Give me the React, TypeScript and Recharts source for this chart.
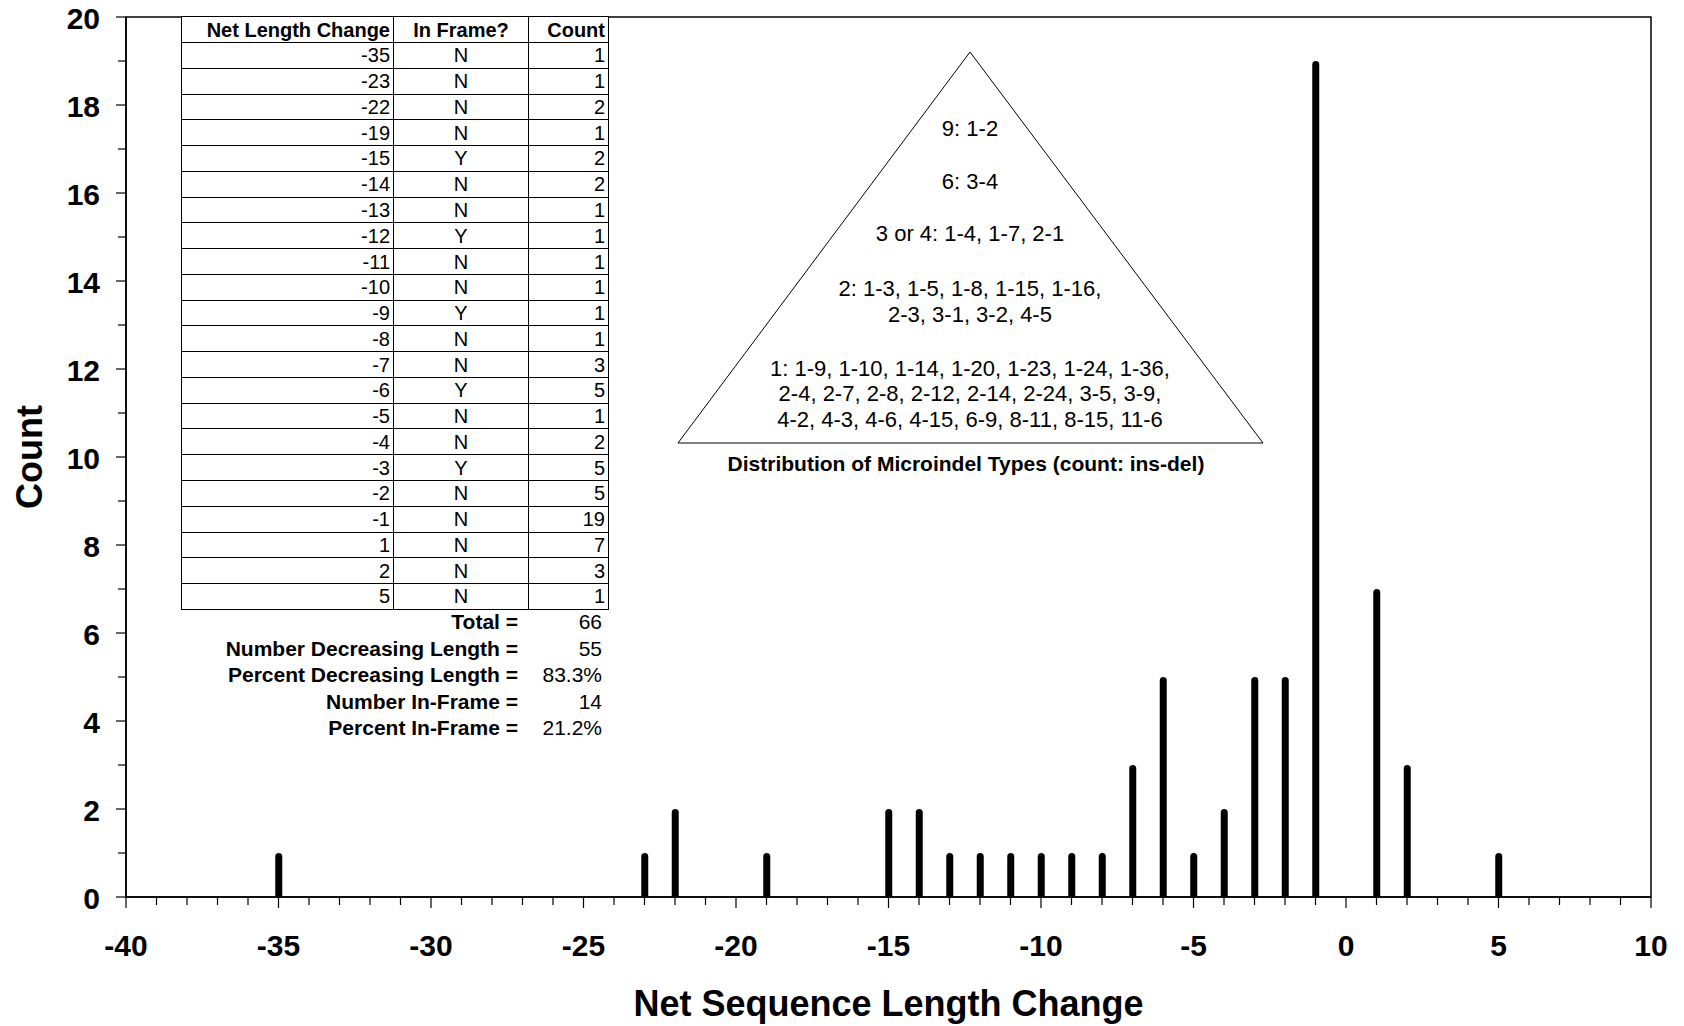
import { ComposedChart, Bar, XAxis, YAxis, ReferenceArea, Label } from 'recharts';

const changes = [-35, -23, -22, -19, -15, -14, -13, -12, -11, -10, -9, -8, -7, -6, -5, -4, -3, -2, -1, 1, 2, 5];
const inFrame = ['N', 'N', 'N', 'N', 'Y', 'N', 'N', 'Y', 'N', 'N', 'Y', 'N', 'N', 'Y', 'N', 'N', 'Y', 'N', 'N', 'N', 'N', 'N'];
const counts = [1, 1, 2, 1, 2, 2, 1, 1, 1, 1, 1, 1, 3, 5, 1, 2, 5, 5, 19, 7, 3, 1];

const xTicks = Array.from({ length: 51 }, (_, i) => i - 40);
const yTicks = Array.from({ length: 21 }, (_, i) => i);

const statLabels = ['Total =', 'Number Decreasing Length =', 'Percent Decreasing Length =', 'Number In-Frame =', 'Percent In-Frame ='];
const statValues = ['66', '55', '83.3%', '14', '21.2%'];

const triangleLines = [
  '9: 1-2',
  '6: 3-4',
  '3 or 4: 1-4, 1-7, 2-1',
  '2: 1-3, 1-5, 1-8, 1-15, 1-16,',
  '2-3, 3-1, 3-2, 4-5',
  '1: 1-9, 1-10, 1-14, 1-20, 1-23, 1-24, 1-36,',
  '2-4, 2-7, 2-8, 2-12, 2-14, 2-24, 3-5, 3-9,',
  '4-2, 4-3, 4-6, 4-15, 6-9, 8-11, 8-15, 11-6',
];
const triangleLineY = [128, 181, 233, 288, 314, 368, 393, 419];

const data = changes.map((c, i) => ({ change: c, count: counts[i] }));

const FONT = '"Liberation Sans", Arial, Helvetica, sans-serif';

function XTick(props: any) {
  const { x, y, payload } = props;
  const major = payload.value % 5 === 0;
  return (
    <g>
      <line x1={x} x2={x} y1={y} y2={y + (major ? 11 : 8)} stroke="#000" strokeWidth={1.2} />
      {major && (
        <text x={x} y={y + 48} textAnchor="middle" dominantBaseline="central"
          fontFamily={FONT} fontWeight="bold" fontSize={30} fill="#000">
          {payload.value}
        </text>
      )}
    </g>
  );
}

function YTick(props: any) {
  const { x, y, payload } = props;
  const major = payload.value % 2 === 0;
  return (
    <g>
      <line x1={x - (major ? 10 : 8)} x2={x} y1={y} y2={y} stroke="#000" strokeWidth={1.2} />
      {major && (
        <text x={x - 26} y={y + 1} textAnchor="end" dominantBaseline="central"
          fontFamily={FONT} fontWeight="bold" fontSize={30} fill="#000">
          {payload.value}
        </text>
      )}
    </g>
  );
}

const cell = (align: 'left' | 'center' | 'right', bold = false): React.CSSProperties => ({
  border: '1px solid #000',
  padding: '0 3px',
  textAlign: align,
  fontWeight: bold ? 'bold' : 'normal',
  lineHeight: 1,
  whiteSpace: 'nowrap',
});

export default function App() {
  return (
    <div style={{ position: 'absolute', left: 0, top: 0, width: 1684, height: 1026, background: '#fff', fontFamily: FONT }}>
      <ComposedChart width={1684} height={1026} data={data} margin={{ top: 17, right: 33, left: 0, bottom: 0 }}>
        <XAxis
          dataKey="change"
          type="number"
          domain={[-40, 10]}
          ticks={xTicks}
          interval={0}
          height={129}
          tickSize={0}
          tickMargin={0}
          tickLine={false}
          tick={<XTick />}
          axisLine={{ stroke: '#000', strokeWidth: 1.5 }}
        >
          <Label
            content={({ viewBox }: any) => (
              <text x={viewBox.x + viewBox.width / 2} y={viewBox.y + 106} textAnchor="middle" dominantBaseline="central"
                fontFamily={FONT} fontWeight="bold" fontSize={36} fill="#000">
                Net Sequence Length Change
              </text>
            )}
          />
        </XAxis>
        <YAxis
          type="number"
          domain={[0, 20]}
          ticks={yTicks}
          interval={0}
          width={126}
          tickSize={0}
          tickMargin={0}
          tickLine={false}
          tick={<YTick />}
          axisLine={{ stroke: '#000', strokeWidth: 1.5 }}
        >
          <Label
            content={({ viewBox }: any) => {
              const cx = viewBox.x + 29;
              const cy = viewBox.y + viewBox.height / 2;
              return (
                <text x={cx} y={cy} transform={`rotate(-90 ${cx} ${cy})`} textAnchor="middle" dominantBaseline="central"
                  fontFamily={FONT} fontWeight="bold" fontSize={36} fill="#000">
                  Count
                </text>
              );
            }}
          />
        </YAxis>
        <ReferenceArea x1={-40} x2={10} y1={0} y2={20} fill="none" stroke="#000" strokeWidth={1.5} />
        <Bar dataKey="count" barSize={7} fill="#000" radius={[3.5, 3.5, 0, 0]} isAnimationActive={false} />
      </ComposedChart>

      <table
        style={{
          position: 'absolute', left: 181, top: 16, width: 427, borderCollapse: 'collapse', tableLayout: 'fixed',
          fontSize: 20, fontFamily: FONT, color: '#000', background: '#fff',
        }}
      >
        <colgroup>
          <col style={{ width: 212 }} />
          <col style={{ width: 135 }} />
          <col style={{ width: 80 }} />
        </colgroup>
        <tbody>
          <tr style={{ height: 26 }}>
            <td style={cell('right', true)}>Net Length Change</td>
            <td style={cell('center', true)}>In Frame?</td>
            <td style={cell('right', true)}>Count</td>
          </tr>
          {changes.map((c, i) => (
            <tr key={c} style={{ height: 25.77 }}>
              <td style={cell('right')}>{c}</td>
              <td style={cell('center')}>{inFrame[i]}</td>
              <td style={cell('right')}>{counts[i]}</td>
            </tr>
          ))}
        </tbody>
      </table>

      {statLabels.map((s, i) => (
        <div key={s} style={{ position: 'absolute', left: 180, top: 609 + i * 26.5, width: 428, height: 26, fontSize: 21, lineHeight: '26px', color: '#000' }}>
          <span style={{ position: 'absolute', right: 90, fontWeight: 'bold', whiteSpace: 'nowrap' }}>{s}</span>
          <span style={{ position: 'absolute', right: 6, whiteSpace: 'nowrap' }}>{statValues[i]}</span>
        </div>
      ))}

      <svg width={1684} height={1026} style={{ position: 'absolute', left: 0, top: 0, pointerEvents: 'none' }}>
        <polygon points="970,52 678,443 1263,443" fill="#fff" stroke="#000" strokeWidth={1} />
        {triangleLines.map((t, i) => (
          <text key={t} x={970} y={triangleLineY[i]} textAnchor="middle" dominantBaseline="central"
            fontFamily={FONT} fontSize={22} fill="#000">
            {t}
          </text>
        ))}
        <text x={966} y={463} textAnchor="middle" dominantBaseline="central" fontFamily={FONT} fontWeight="bold" fontSize={21} fill="#000">
          Distribution of Microindel Types (count: ins-del)
        </text>
      </svg>
    </div>
  );
}
